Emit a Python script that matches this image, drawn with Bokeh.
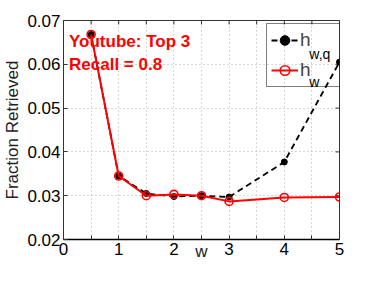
import math
from bokeh.plotting import figure
from bokeh.models import (Range1d, FixedTicker, PrintfTickFormatter, Legend, LegendItem, Label)
from bokeh.embed import file_html
from bokeh.resources import INLINE

# data
w_q = [0.5, 1, 1.5, 2, 2.5, 3, 4, 5]
h_wq = [0.0668, 0.0345, 0.0305, 0.0298, 0.0300, 0.0297, 0.0377, 0.0605]
w = [0.5, 1, 1.5, 2, 2.5, 3, 4, 5]
h_w = [0.0668, 0.0345, 0.0300, 0.0303, 0.0300, 0.0287, 0.0296, 0.0297]
x_ticks = [0, 1, 2, 3, 4, 5]
x_minor = [0.5, 1.5, 2.5, 3.5, 4.5]
y_ticks = [0.02, 0.03, 0.04, 0.05, 0.06, 0.07]
x_min, x_max = 0, 5
y_min, y_max = 0.02, 0.07

FONT = "Liberation Sans"
AXC = "#333333"

p = figure(width=358, height=265, output_backend="svg", toolbar_location=None,
           x_range=Range1d(x_min, x_max), y_range=Range1d(y_min, y_max),
           min_border_left=62, min_border_right=19, min_border_top=20, min_border_bottom=26,
           x_axis_label="w", y_axis_label="Fraction Retrieved")
p.background_fill_color = "white"
p.border_fill_color = "white"
p.outline_line_color = AXC
p.outline_line_width = 1

p.xaxis.ticker = FixedTicker(ticks=x_ticks, minor_ticks=x_minor)
p.yaxis.ticker = FixedTicker(ticks=y_ticks)
p.yaxis.formatter = PrintfTickFormatter(format="%.2f")

for ax in [p.xaxis[0], p.yaxis[0]]:
    ax.major_tick_in = 4
    ax.major_tick_out = 0
    ax.minor_tick_in = 4
    ax.minor_tick_out = 0
    ax.major_label_text_font = FONT
    ax.major_label_text_font_size = "17px"
    ax.major_label_text_color = "black"
    ax.axis_line_color = AXC
    ax.major_tick_line_color = AXC
    ax.minor_tick_line_color = AXC
    ax.axis_label_text_font = FONT
    ax.axis_label_text_font_size = "17px"
    ax.axis_label_text_font_style = "normal"
    ax.axis_label_text_color = "#222222"
ax_x, ax_y = p.xaxis[0], p.yaxis[0]
ax_x.major_label_standoff = 3
ax_x.axis_label_standoff = -16
ax_y.major_label_standoff = 3
ax_y.axis_label_standoff = 2
ax_x.axis_line_color = "black"
ax_x.axis_line_width = 1.5

# inward ticks on the top and right edges of the box
p.ray(x=x_ticks + x_minor, y=[y_max] * (len(x_ticks) + len(x_minor)), length=4,
      length_units="screen", angle=-math.pi / 2, line_color=AXC, line_width=1)
p.ray(x=[x_max] * len(y_ticks), y=y_ticks, length=4, length_units="screen",
      angle=math.pi, line_color=AXC, line_width=1)

p.xgrid.grid_line_color = "#b0b0b0"
p.xgrid.grid_line_dash = "1 3"
p.xgrid.minor_grid_line_color = "#b0b0b0"
p.xgrid.minor_grid_line_dash = "1 3"
p.ygrid.grid_line_color = "#b0b0b0"
p.ygrid.grid_line_dash = "1 3"

l1 = p.line(w_q, h_wq, line_color="black", line_width=1.8, line_dash="6 4")
s1 = p.scatter(w_q, h_wq, size=6, marker="circle", fill_color="black", line_color="black")
l2 = p.line(w, h_w, line_color="red", line_width=2)
s2 = p.scatter(w, h_w, size=8, marker="circle", fill_color=None, line_color="red", line_width=1.6)

legend = Legend(items=[LegendItem(label="h", renderers=[l1, s1]),
                       LegendItem(label="h", renderers=[l2, s2])],
                location=(203, 152), padding=4, spacing=6, margin=0,
                glyph_width=27, glyph_height=24, label_height=24, label_width=35,
                label_standoff=2, label_text_font=FONT, label_text_font_size="19px",
                border_line_color="black", border_line_width=1,
                background_fill_color="white", background_fill_alpha=0)
p.add_layout(legend, "center")

p.add_layout(Label(x=4.453, y=0.06225, text="w,q", text_font=FONT, text_font_size="14px",
                   text_color="black", text_baseline="alphabetic"))
p.add_layout(Label(x=4.453, y=0.05586, text="w", text_font=FONT, text_font_size="14px",
                   text_color="black", text_baseline="alphabetic"))

p.add_layout(Label(x=0.1, y=0.0652, text="Youtube: Top 3", text_font=FONT, text_font_size="17px",
                   text_font_style="bold", text_color="red", text_baseline="alphabetic"))
p.add_layout(Label(x=0.1, y=0.0600, text="Recall = 0.8", text_font=FONT, text_font_size="17px",
                   text_font_style="bold", text_color="red", text_baseline="alphabetic"))

open("out.html", "w").write(file_html(p, INLINE))
